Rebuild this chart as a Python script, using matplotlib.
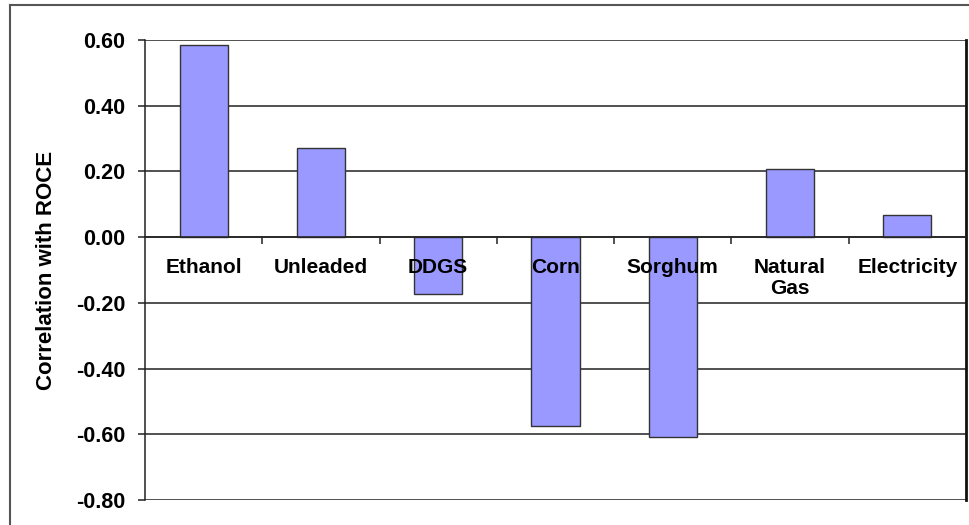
import matplotlib.pyplot as plt
from matplotlib.lines import Line2D
import numpy as np

plt.rcParams['font.family'] = ['Liberation Sans', 'DejaVu Sans']

categories = ["Ethanol", "Unleaded", "DDGS", "Corn", "Sorghum", "Natural\nGas", "Electricity"]
values = [0.584, 0.271, -0.173, -0.575, -0.609, 0.207, 0.067]
yticks = [-0.80, -0.60, -0.40, -0.20, 0.00, 0.20, 0.40, 0.60]

fig = plt.figure(figsize=(9.69, 5.25), dpi=100)
ax = fig.add_axes([145 / 969, 25 / 525, 821 / 969, 460 / 525])
ax.set_axisbelow(False)

x = np.arange(len(categories))
ax.bar(x, values, width=0.41, color="#9999ff", edgecolor="#333333", linewidth=1.0, zorder=2)

# gridlines behind the bars
ax.hlines(yticks, -0.5, len(categories) - 0.5, color="#222222", linewidth=1.1, zorder=0)

ax.set_xlim(-0.5, len(categories) - 0.5)
ax.set_ylim(-0.8, 0.6)
ax.set_yticks(yticks)
ax.set_yticklabels([f"{v:.2f}" for v in yticks], fontsize=15.5, fontweight="bold")
ax.tick_params(axis="y", length=5, width=1.1, color="#222222", pad=9)

# category axis sits at zero
ax.spines["bottom"].set_position(("data", 0))
ax.spines["bottom"].set_color("#222222")
ax.spines["bottom"].set_linewidth(1.1)
ax.set_xticks(x[:-1] + 0.5)
ax.set_xticklabels([])
ax.set_xticks(x, minor=True)
ax.set_xticklabels(categories, minor=True, fontsize=15, fontweight="bold", linespacing=1.15)
ax.tick_params(axis="x", which="major", length=5, width=1.1, color="#222222")
ax.tick_params(axis="x", which="minor", length=0, pad=15)

ax.spines["top"].set_visible(False)
ax.spines["left"].set_color("#222222")
ax.spines["left"].set_linewidth(1.1)
ax.spines["right"].set_color("#111111")
ax.spines["right"].set_linewidth(2)

ax.set_ylabel("Correlation with ROCE", fontsize=16, fontweight="bold", labelpad=14)

# outer chart frame
fig.add_artist(Line2D([10 / 969, 10 / 969], [0, 1 - 5 / 525], color="#555555", linewidth=1.5))
fig.add_artist(Line2D([10 / 969, 1], [1 - 5 / 525, 1 - 5 / 525], color="#555555", linewidth=1.5))

fig.savefig("out.png", dpi=100)
